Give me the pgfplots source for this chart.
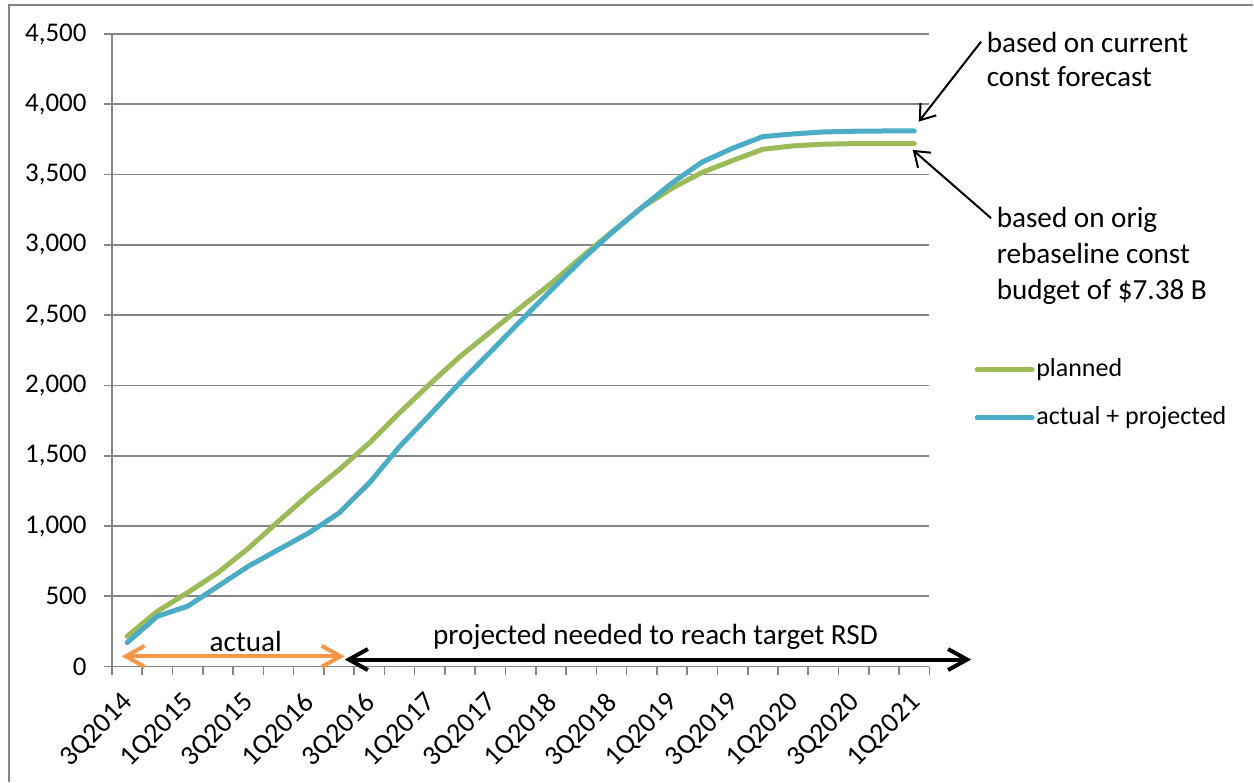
\documentclass[border=0pt]{standalone}
\usepackage{fontspec}
\setmainfont{Carlito}
\usepackage{pgfplots}
\usepackage{pgfplotstable}
\pgfplotsset{compat=1.18}
\usetikzlibrary{arrows.meta}

\definecolor{plangreen}{RGB}{155,187,89}
\definecolor{actblue}{RGB}{75,172,198}
\definecolor{arrorange}{RGB}{247,150,70}
\definecolor{gridgray}{RGB}{134,134,134}

% quarter index: 0 = 3Q2014 ... 26 = 1Q2021
\pgfplotstableread{
q  planned  actual
0  215   170
1  393   358
2  526   429
3  668   571
4  840   713
5  1033  832
6  1223  950
7  1400  1092
8  1590  1306
9  1805  1565
10 2010  1790
11 2206  2020
12 2380  2238
13 2555  2459
14 2725  2676
15 2910  2890
16 3090  3085
17 3265  3265
18 3403  3440
19 3516  3590
20 3600  3687
21 3680  3770
22 3704  3789
23 3716  3803
24 3720  3808
25 3720  3810
26 3720  3810
}\cumdata

\begin{document}
\begin{tikzpicture}[x=1pt,y=1pt]
\path (0,0) rectangle (627,391);
\draw[gridgray, line width=0.8pt] (4.5,0) -- (4.5,388.5) -- (627,388.5);

\begin{axis}[
  at={(56pt,57.5pt)}, anchor=south west,
  scale only axis, width=409pt, height=316.5pt,
  xmin=-0.5, xmax=26.5, ymin=0, ymax=4500,
  axis x line=bottom, axis y line=left,
  axis line style={-, draw=gridgray, line width=0.8pt},
  xtick={-0.5,0.5,...,26.5},
  xticklabels={},
  extra x ticks={0,2,...,26},
  extra x tick labels={3Q2014,1Q2015,3Q2015,1Q2016,3Q2016,1Q2017,3Q2017,1Q2018,3Q2018,1Q2019,3Q2019,1Q2020,3Q2020,1Q2021},
  extra x tick style={major tick length=0pt, tick style={draw=none},
    xticklabel style={font=\fontsize{14}{16}\selectfont, xshift=1pt, yshift=-16pt, rotate=45, anchor=east, inner sep=0pt}},
  ytick={0,500,...,4500},
  tick align=outside,
  major tick length=4pt,
  tick style={draw=gridgray, line width=0.8pt},
  ymajorgrids, grid style={draw=gridgray, line width=0.8pt},
  scaled y ticks=false,
  /pgf/number format/1000 sep={,},
  /pgf/number format/assume math mode=true,
  tick label style={font=\fontsize{13.5}{15}\selectfont, text=black},
  yticklabel style={anchor=east, inner sep=0pt, xshift=-8.5pt},
  clip=false,
  legend style={at={(rel axis cs:1.055,0.431)}, anchor=west, draw=none, fill=none,
    inner sep=0pt, row sep=6.5pt, font=\fontsize{13}{15}\selectfont,
    nodes={text height=10pt, text depth=3.5pt, inner ysep=2pt, inner xsep=0.8pt}},
  legend cell align=left,
  legend image code/.code={\draw[#1, line cap=round] (0pt,0pt) -- (27.5pt,0pt);},
]
\addplot[plangreen, line width=2.5pt, line join=round, line cap=round] table[x=q, y=planned] {\cumdata};
\addlegendentry{planned}
\addplot[actblue, line width=2.5pt, line join=round, line cap=round] table[x=q, y=actual] {\cumdata};
\addlegendentry{actual + projected}

\draw[arrorange, line width=2pt, {Straight Barb[length=9.5pt, width=10.5pt]}-{Straight Barb[length=9.5pt, width=10.5pt]}]
  (axis cs:-0.18,73) -- (axis cs:7.19,73);
\draw[black, line width=2pt, {Straight Barb[length=9.5pt, width=10.5pt]}-{Straight Barb[length=9.5pt, width=10.5pt]}]
  (axis cs:7.19,50) -- (axis cs:27.88,50);
\node[font=\fontsize{14.6}{17}\selectfont, inner sep=0pt] at (axis cs:3.92,180) {actual};
\node[font=\fontsize{14.6}{17}\selectfont, inner sep=0pt] at (axis cs:17.45,208) {projected needed to reach target RSD};
\end{axis}

\node[font=\fontsize{14.6}{17}\selectfont, align=left, anchor=west, inner sep=0pt] at (493.5,361)
  {based on current\\const forecast};
\node[font=\fontsize{14.6}{18}\selectfont, align=left, anchor=west, inner sep=0pt] at (498.5,263)
  {based on orig\\rebaseline const\\budget of \$7.38 B};
\draw[black, line width=1pt, -{Straight Barb[length=7pt, width=10pt]}] (490.85,370.15) -- (459.65,330.15);
\draw[black, line width=1pt, -{Straight Barb[length=7pt, width=10pt]}] (495.85,281.85) -- (456.65,316);
\end{tikzpicture}
\end{document}
